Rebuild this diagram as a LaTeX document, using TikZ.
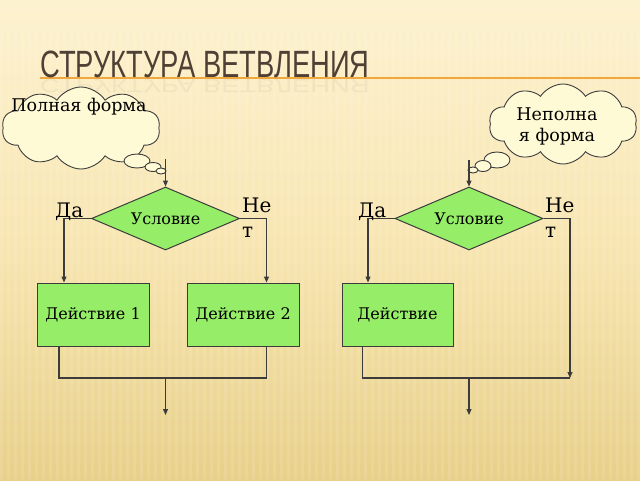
\documentclass[tikz,border=0pt]{standalone}
\usepackage{fontspec}
\setmainfont{DejaVu Serif}
\newfontfamily\titlefont{Liberation Sans}
\usetikzlibrary{shapes.geometric,shapes.symbols,arrows.meta}
\definecolor{bgtop}{RGB}{253,242,208}
\definecolor{bgmid}{RGB}{248,230,178}
\definecolor{bgbot}{RGB}{232,208,138}
\definecolor{lc}{RGB}{60,60,60}
\definecolor{gr}{RGB}{150,238,104}
\definecolor{cloudfill}{RGB}{255,250,214}
\definecolor{titlec}{RGB}{78,64,52}
\definecolor{orline}{RGB}{240,168,60}
\tikzset{
  ln/.style={draw=lc, line width=1.1pt},
  arr/.style={ln, -{Triangle[length=6pt,width=5pt]}},
  dec/.style={diamond, aspect=2.35, draw=lc, line width=1pt, fill=gr, inner sep=0pt,
    minimum width=148pt, minimum height=63pt, font=\fontsize{16}{18}\selectfont},
  act/.style={rectangle, draw=lc, line width=1pt, fill=gr, inner sep=0pt,
    minimum width=112pt, minimum height=63pt, font=\fontsize{16}{18}\selectfont},
  cl/.style={cloud, cloud puffs=10, cloud puff arc=115, draw=lc, line width=0.9pt,
    fill=cloudfill, inner sep=0pt},
  bub/.style={draw=lc, line width=0.9pt, fill=cloudfill},
  lbl/.style={font=\fontsize{20}{25}\selectfont, inner sep=0pt, text=black},
  ctext/.style={font=\fontsize{17.5}{21}\selectfont, inner sep=0pt, text=black, align=center},
}
\begin{document}
\begin{tikzpicture}[x=1pt,y=-1pt]
\useasboundingbox (0,0) rectangle (640,480);
% background
\shade[top color=bgtop, bottom color=bgmid] (0,0) rectangle (640,240);
\shade[top color=bgmid, bottom color=bgbot] (0,240) rectangle (640,480);
\foreach \x in {0,7,...,640} {
  \fill[white, opacity=0.1] (\x,30) rectangle (\x+3,480);
}
% title
\draw[orline, line width=1.6pt] (40,78) -- (640,78);
\node[anchor=base west, inner sep=0pt, text=titlec] (title) at (40,77)
  {\scalebox{0.72}[1]{\titlefont\fontsize{38}{40}\selectfont СТРУКТУРА ВЕТВЛЕНИЯ}};
\node[anchor=base west, inner sep=0pt, text=titlec, opacity=0.06] (refl) at (40,79)
  {\scalebox{0.72}[-0.5]{\titlefont\fontsize{38}{40}\selectfont СТРУКТУРА ВЕТВЛЕНИЯ}};

% left cloud
\node[cl, minimum width=158pt, minimum height=82pt] (c1) at (81,128) {};
\draw[bub] (137,161) ellipse (13 and 7);
\draw[bub] (153,167) ellipse (8 and 4.5);
\draw[bub] (161,171) ellipse (5 and 3);
\node[ctext, anchor=base] (t1) at (79,111) {Полная форма};

% right cloud
\node[cl, minimum width=148pt, minimum height=80pt] (c2) at (563,124) {};
\draw[bub] (497,160) ellipse (13 and 8);
\draw[bub] (483,166) ellipse (8 and 5.5);
\draw[bub] (473,170) ellipse (5 and 3);
\node[ctext, anchor=base] (t2) at (557,141) {Неполна\\я форма};

% left flowchart
\coordinate (s1) at (165.5,159);
\node[dec] (d1) at (165.5,218.5) {Условие};
\node[act] (a1) at (93,314.5) {Действие 1};
\node[act] (a2) at (243,314.5) {Действие 2};
\draw[arr] (s1) -- (d1.north);
\draw[arr] (d1.west) -| ([xshift=-29pt]a1.north);
\draw[arr] (d1.east) -| ([xshift=23.5pt]a2.north);
\coordinate (j1) at (59,378);
\coordinate (j2) at (266.5,378);
\coordinate (m1) at (165.5,378);
\coordinate (e1) at (165.5,415);
\draw[ln] ([xshift=-34pt]a1.south) -- (j1) -- (j2) -- ([xshift=23.5pt]a2.south);
\draw[arr] (m1) -- (e1);
\node[lbl, anchor=base west] (da1) at (55,217) {Да};
\node[lbl, anchor=base west, align=left] (no1) at (242,237) {Не\\т};

% right flowchart
\coordinate (s2) at (469,160);
\node[dec] (d2) at (469,218.5) {Условие};
\node[act, minimum width=111pt] (a3) at (397.5,314.5) {Действие};
\draw[arr] (s2) -- (d2.north);
\draw[arr] (d2.west) -| ([xshift=-29.5pt]a3.north);
\coordinate (j3) at (362.5,378);
\coordinate (j4) at (570,378);
\coordinate (m2) at (469,378);
\coordinate (e2) at (469,415);
\draw[arr] (d2.east) -| (j4);
\draw[ln] ([xshift=-35pt]a3.south) -- (j3) -- (j4);
\draw[arr] (m2) -- (e2);
\node[lbl, anchor=base west] (da2) at (358,217) {Да};
\node[lbl, anchor=base west, align=left] (no2) at (545,237) {Не\\т};
\end{tikzpicture}
\end{document}
